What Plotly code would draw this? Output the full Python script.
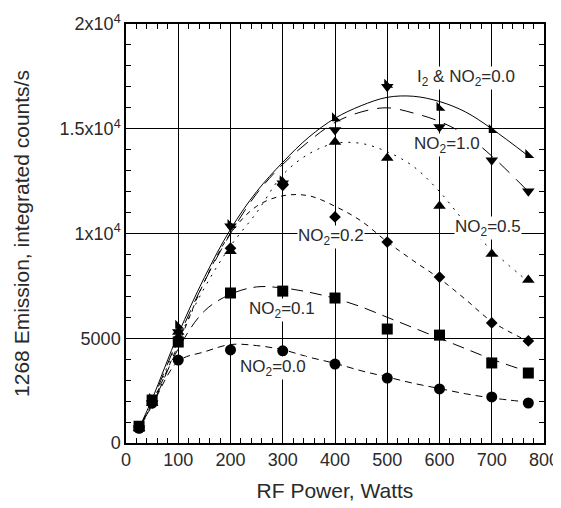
import plotly.graph_objects as go

# ---- data ----
x_pts = [25, 50, 100, 200, 300, 400, 500, 600, 700, 770]

no2_00 = [700, 1900, 3960, 4440, 4400, 3770, 3100, 2580, 2200, 1910]
no2_01 = [800, 2050, 4820, 7160, 7250, 6920, 5440, 5150, 3820, 3340]
no2_02 = [750, 2000, 5000, 9300, 12300, 10790, 9590, 7920, 5730, 4870]
no2_05 = [700, 1900, 5300, 9150, 12450, 14370, 13600, 11310, 9020, 7780]
no2_10 = [700, 1900, 5300, 10350, 12400, 14940, 17000, 15080, 13500, 12020]
i2_00 = [700, 2100, 5600, 10400, 12500, 15500, 17100, 16000, 14940, 13750]

# fitted curves
x_fit = [25, 50, 100, 150, 200, 250, 300, 350, 400, 450, 500, 550, 600, 650, 700, 770]
fit_00 = [700, 1800, 3900, 4350, 4700, 4650, 4450, 4100, 3800, 3450, 3150, 2850, 2600, 2350, 2150, 1950]
fit_01 = [700, 1800, 4500, 6300, 7100, 7450, 7400, 7200, 6900, 6500, 6000, 5500, 5000, 4500, 4000, 3400]
fit_02 = [700, 1900, 4700, 7700, 10000, 11300, 11800, 11800, 11300, 10600, 9600, 8700, 7850, 6850, 5800, 4850]
fit_05 = [700, 1900, 4900, 7400, 9400, 11000, 12800, 13800, 14300, 14300, 13900, 13200, 12000, 10500, 9200, 7700]
fit_10 = [700, 2000, 5000, 7700, 10000, 11900, 13300, 14400, 15300, 15800, 16000, 15750, 15350, 14700, 13700, 12000]
fit_i2 = [700, 2100, 5200, 7900, 10200, 12000, 13400, 14600, 15500, 16100, 16500, 16550, 16300, 15800, 15000, 13700]

x_ticks = [0, 100, 200, 300, 400, 500, 600, 700, 800]
y_ticks = [0, 5000, 10000, 15000, 20000]
y_ticktext = ["0", "5000", "1x10<sup>4</sup>", "1.5x10<sup>4</sup>", "2x10<sup>4</sup>"]

labels = ["NO<sub>2</sub>=0.0", "NO<sub>2</sub>=0.1", "NO<sub>2</sub>=0.2",
          "NO<sub>2</sub>=0.5", "NO<sub>2</sub>=1.0", "I<sub>2</sub> & NO<sub>2</sub>=0.0"]
label_x = [281, 299, 392, 692, 615, 651]
label_y = [3580, 6350, 9830, 10260, 14220, 17400]

FONT = "Liberation Sans, Arial, sans-serif"
TXT = "#2a2a2a"

fig = go.Figure()

series = [
    (no2_00, fit_00, "circle", 11, "7px,5px"),
    (no2_01, fit_01, "square", 11, "12px,7px"),
    (no2_02, fit_02, "diamond", 9, "5px,5px"),
    (no2_05, fit_05, "triangle-up", 11, "2px,6px"),
    (no2_10, fit_10, "triangle-down", 11, "14px,9px"),
    (i2_00, fit_i2, "triangle-sw", 10, "solid"),
]

for pts, fit, sym, size, dash in series:
    fig.add_trace(go.Scatter(x=x_fit, y=fit, mode="lines", line_shape="spline",
                             line=dict(color="black", width=1, dash=dash),
                             showlegend=False, hoverinfo="skip"))
    fig.add_trace(go.Scatter(x=x_pts, y=pts, mode="markers",
                             marker=dict(symbol=sym, size=size, color="black"),
                             showlegend=False))

for t, lx, ly in zip(labels, label_x, label_y):
    fig.add_annotation(x=lx, y=ly, text=t, showarrow=False, bgcolor="white",
                       font=dict(family=FONT, size=17, color=TXT), borderpad=0)

axis_common = dict(showgrid=True, gridcolor="black", gridwidth=1,
                   showline=True, linecolor="black", linewidth=1.5,
                   mirror="allticks", ticks="inside", ticklen=5, tickcolor="black",
                   zeroline=False, automargin=False,
                   tickfont=dict(family=FONT, size=18, color=TXT))

fig.update_xaxes(range=[0, 800], tickmode="array", tickvals=x_ticks,
                 minor=dict(dtick=20, tick0=0, ticks="inside", ticklen=5,
                            tickcolor="black", showgrid=False),
                 title=dict(text="RF Power, Watts", standoff=14,
                            font=dict(family=FONT, size=21, color=TXT)),
                 **axis_common)
fig.update_yaxes(range=[0, 20000], tickmode="array", tickvals=y_ticks, ticktext=y_ticktext,
                 minor=dict(dtick=1000, tick0=0, ticks="inside", ticklen=5,
                            tickcolor="black", showgrid=False),
                 title=dict(text="1268 Emission, integrated counts/s", standoff=24,
                            font=dict(family=FONT, size=21, color=TXT)),
                 **axis_common)

# page body has an 8px default margin, so the figure is sized to fit inside the window
fig.update_layout(width=553, height=500, plot_bgcolor="white", paper_bgcolor="white",
                  margin=dict(l=118, r=17, t=16, b=65), showlegend=False)

fig.write_html("out.html")
